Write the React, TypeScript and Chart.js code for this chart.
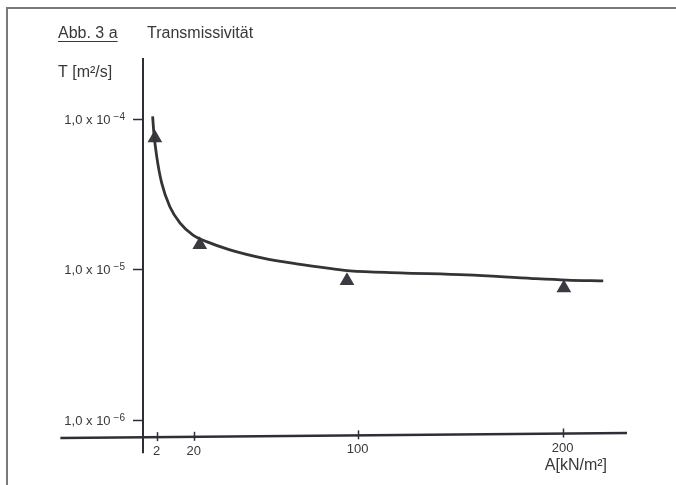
import React, { useEffect, useRef } from "react";
import { Chart, registerables } from "chart.js";

Chart.register(...registerables);

// ---- data ----
const curveA = [0, 0.6, 2.0, 4.4, 8.4, 13.3, 19.7, 26.3, 37.7, 53.8, 70.2, 88, 96.2, 120.6, 153.2, 185.5, 202, 219.8];
const curveT = [1.04e-4, 8.07e-5, 5.62e-5, 3.76e-5, 2.61e-5, 2.04e-5, 1.69e-5, 1.53e-5, 1.35e-5, 1.19e-5, 1.09e-5, 1.01e-5, 9.8e-6, 9.5e-6, 9.2e-6, 8.7e-6, 8.5e-6, 8.4e-6];
const pointA = [1.1, 23, 94.8, 200.6];
const pointT = [7.48e-5, 1.46e-5, 8.4e-6, 7.53e-6];

const xTicks = [2, 20, 100, 200];
const xTickLabels = ["2", "20", "100", "200"];
const yTicks = [1e-4, 1e-5, 1e-6];
const yTickMantissa = "1,0 x 10";
const yTickExponents = ["\u22124", "\u22125", "\u22126"];

const titleLabel = "Abb. 3 a";
const titleText = "Transmissivität";
const yAxisTitle = "T [m²/s]";
const xAxisTitle = "A[kN/m²]";

// axis ranges
const xMin = -4.7;
const xMax = 231.4;
const xAxisLeftValue = -45;
const yMin = 7.59e-7;
const yMax = 2.54e-4;
const yAxisBottomValue = 6.0e-7;
// the hand-drawn x axis rises slightly to the right
const xAxisRightLevel = 8.2e-7;

const FONT = "'Liberation Sans', Arial, sans-serif";
const INK = "#2e2e36";
const TEXT = "#383838";

function xAxisPixelY(xs: any, ys: any, px: number) {
  const x0 = xs.getPixelForValue(xAxisLeftValue);
  const x1 = xs.getPixelForValue(xMax);
  const y0 = ys.getPixelForValue(yMin);
  const y1 = ys.getPixelForValue(xAxisRightLevel);
  return y0 + ((px - x0) / (x1 - x0)) * (y1 - y0);
}

const decorPlugin = {
  id: "decor",
  beforeDatasetsDraw(chart: any) {
    const ctx = chart.ctx as CanvasRenderingContext2D;
    const xs = chart.scales.x;
    const ys = chart.scales.y;
    const area = chart.chartArea;
    ctx.save();
    // scan frame
    ctx.strokeStyle = "#7a7a7a";
    ctx.lineWidth = 2;
    ctx.beginPath();
    ctx.moveTo(7, chart.height);
    ctx.lineTo(7, 8);
    ctx.lineTo(chart.width, 8);
    ctx.stroke();

    // y axis
    const yAxisX = area.left;
    ctx.strokeStyle = INK;
    ctx.lineWidth = 2;
    ctx.beginPath();
    ctx.moveTo(yAxisX, ys.getPixelForValue(yMax));
    ctx.lineTo(yAxisX, ys.getPixelForValue(yAxisBottomValue));
    ctx.stroke();

    // x axis
    ctx.lineWidth = 2.5;
    ctx.beginPath();
    ctx.moveTo(xs.getPixelForValue(xAxisLeftValue), ys.getPixelForValue(yMin));
    ctx.lineTo(xs.getPixelForValue(xMax), ys.getPixelForValue(xAxisRightLevel));
    ctx.stroke();

    // y ticks
    ctx.lineWidth = 1.5;
    yTicks.forEach((t) => {
      const py = Math.round(ys.getPixelForValue(t)) + 0.5;
      ctx.beginPath();
      ctx.moveTo(yAxisX - 10, py);
      ctx.lineTo(yAxisX, py);
      ctx.stroke();
    });
    // x ticks
    xTicks.forEach((t) => {
      const px = Math.round(xs.getPixelForValue(t)) + 0.5;
      const ay = xAxisPixelY(xs, ys, px);
      ctx.beginPath();
      ctx.moveTo(px, ay - 5);
      ctx.lineTo(px, ay + 4);
      ctx.stroke();
    });
    ctx.restore();
  },
  afterDraw(chart: any) {
    const ctx = chart.ctx as CanvasRenderingContext2D;
    const xs = chart.scales.x;
    const ys = chart.scales.y;
    const area = chart.chartArea;
    ctx.save();
    ctx.fillStyle = TEXT;
    ctx.strokeStyle = TEXT;
    ctx.textBaseline = "alphabetic";

    // title
    ctx.font = `16px ${FONT}`;
    ctx.textAlign = "left";
    ctx.fillText(titleLabel, 58, 38);
    const w = ctx.measureText(titleLabel).width;
    ctx.lineWidth = 1;
    ctx.beginPath();
    ctx.moveTo(58, 41.5);
    ctx.lineTo(58 + w, 41.5);
    ctx.stroke();
    ctx.fillText(titleText, 147, 38);

    // y axis title
    ctx.fillText(yAxisTitle, 58, 77);

    // x axis title
    ctx.textAlign = "right";
    ctx.fillText(xAxisTitle, 607, 470);

    // y tick labels
    yTicks.forEach((t, i) => {
      const py = ys.getPixelForValue(t);
      const right = area.left - 18;
      ctx.font = `10px ${FONT}`;
      ctx.textAlign = "right";
      const sup = yTickExponents[i];
      const sw = ctx.measureText(sup).width;
      ctx.fillText(sup, right, py + 1);
      ctx.font = `13px ${FONT}`;
      ctx.fillText(yTickMantissa, right - sw - 3, py + 5);
    });

    // x tick labels
    ctx.font = `13px ${FONT}`;
    ctx.textAlign = "center";
    ctx.textBaseline = "top";
    xTicks.forEach((t, i) => {
      const px = xs.getPixelForValue(t);
      ctx.fillText(xTickLabels[i], px, xAxisPixelY(xs, ys, px) + 8);
    });
    ctx.restore();
  },
};

export default function App() {
  const ref = useRef<HTMLCanvasElement | null>(null);

  useEffect(() => {
    if (!ref.current) return;
    const chart = new Chart(ref.current, {
      type: "line",
      data: {
        datasets: [
          {
            label: "Kurve",
            data: curveA.map((a, i) => ({ x: a, y: curveT[i] })),
            borderColor: "#333338",
            borderWidth: 2.8,
            pointRadius: 0,
            cubicInterpolationMode: "monotone",
            fill: false,
          },
          {
            label: "Messwerte",
            data: pointA.map((a, i) => ({ x: a, y: pointT[i] })),
            showLine: false,
            pointStyle: "triangle",
            pointRadius: 8.5,
            backgroundColor: "#3a3a42",
            borderColor: "#3a3a42",
            borderWidth: 0,
          },
        ],
      },
      options: {
        responsive: false,
        maintainAspectRatio: false,
        animation: false,
        events: [],
        layout: { padding: { left: 143, top: 58, right: 49, bottom: 47 } },
        scales: {
          x: { type: "linear", min: xMin, max: xMax, display: false },
          y: { type: "logarithmic", min: yMin, max: yMax, display: false },
        },
        plugins: {
          legend: { display: false },
          tooltip: { enabled: false },
          title: { display: false },
        },
      },
      plugins: [decorPlugin],
    } as any);
    return () => chart.destroy();
  }, []);

  return (
    <div style={{ position: "fixed", left: 0, top: 0, width: 676, height: 485, background: "#fff" }}>
      <canvas ref={ref} width={676} height={485} style={{ display: "block" }} />
    </div>
  );
}
